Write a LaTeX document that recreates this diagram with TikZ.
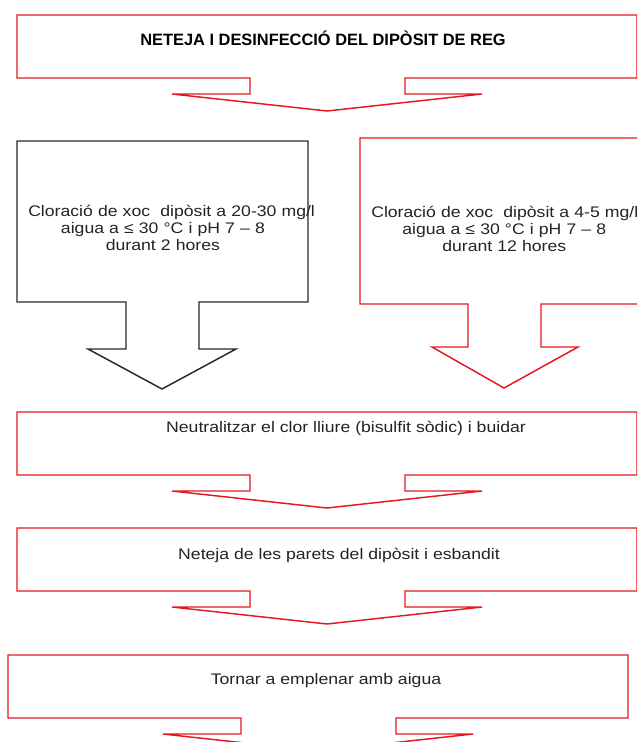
\documentclass[tikz,border=0pt]{standalone}
\usepackage{fontspec}
\setmainfont{Liberation Sans}
\newfontfamily\widesans[FakeStretch=1.15]{Liberation Sans}
\usepackage{xcolor}
\usepackage{tikz}
\usetikzlibrary{positioning, calc}

\definecolor{calloutred}{RGB}{228,24,28}
\definecolor{calloutgray}{RGB}{40,40,40}
\definecolor{textgray}{RGB}{35,35,35}

\begin{document}
\begin{tikzpicture}[x=0.75pt, y=-0.75pt,
  callout/.style={draw=calloutred, line width=1.1pt, line join=miter},
  txt/.style={align=center, text=textgray, font=\widesans\fontsize{11.5}{12.8}\selectfont, inner sep=0pt},
  titletxt/.style={align=center, text=black, font=\fontsize{12.3}{13}\selectfont\bfseries, inner sep=0pt}]
  \useasboundingbox (0,0) rectangle (637,742);
  \clip (0,0) rectangle (637,742);

  % full-width callouts (title, neutralise, clean, refill)
  \foreach \dx/\dy in {0/0, 0/397, 0/513, -9/640} {
    \draw[callout, shift={(\dx,\dy)}]
      (17,15) -- (637,15) -- (637,78) -- (405,78) -- (405,94) -- (482,94)
      -- (327,111) -- (172,94) -- (250,94) -- (250,78) -- (17,78) -- cycle;
  }

  % two chlorination options
  \draw[callout, draw=calloutgray]
    (17,141) -- (308,141) -- (308,302) -- (199,302) -- (199,349) -- (236,349)
    -- (162,389) -- (88,349) -- (126,349) -- (126,302) -- (17,302) -- cycle;
  \draw[callout]
    (360,138) -- (649,138) -- (649,304) -- (541,304) -- (541,347) -- (578,347)
    -- (504,388) -- (432,347) -- (468,347) -- (468,304) -- (360,304) -- cycle;

  \node[titletxt] (title) at (323,38) {NETEJA I DESINFECCIÓ DEL DIPÒSIT DE REG};
  \node[txt, text width=202pt, anchor=west] (xoc20) at (28,228)
    {\makebox[\hsize][l]{Cloració de xoc\ \ dipòsit a 20-30 mg/l}\\aigua a ≤ 30 °C i pH 7 – 8\\durant 2 hores};
  \node[txt, text width=199.5pt, anchor=west] (xoc4) at (371,229)
    {\makebox[\hsize][l]{Cloració de xoc\ \ dipòsit a 4-5 mg/l}\\aigua a ≤ 30 °C i pH 7 – 8\\durant 12 hores};
  \node[txt] (neutral) at (346,428) {Neutralitzar el clor lliure (bisulfit sòdic) i buidar};
  \node[txt] (parets) at (339,555) {Neteja de les parets del dipòsit i esbandit};
  \node[txt] (omplir) at (326,681) {Tornar a emplenar amb aigua};
\end{tikzpicture}
\end{document}
